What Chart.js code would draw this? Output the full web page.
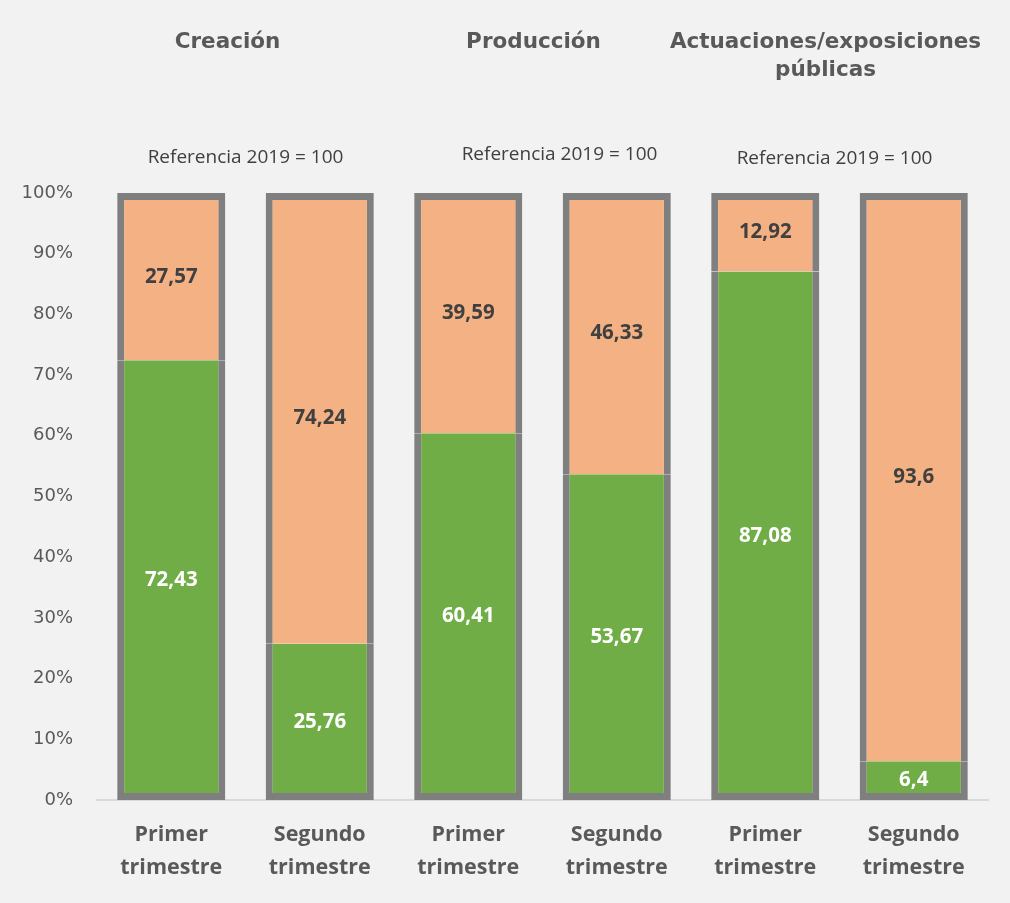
<!DOCTYPE html>
<html>
<head>
<meta charset="utf-8">
<script src="https://cdn.jsdelivr.net/npm/chart.js@4"></script>
<style>
  html, body { margin: 0; padding: 0; background: #f2f2f2; }
  #wrap { width: 1010px; height: 903px; }
</style>
</head>
<body>
<div id="wrap"><canvas id="chart" width="1010" height="903"></canvas></div>
<script>
// Data
const categories = [
  ['Primer', 'trimestre'], ['Segundo', 'trimestre'],
  ['Primer', 'trimestre'], ['Segundo', 'trimestre'],
  ['Primer', 'trimestre'], ['Segundo', 'trimestre']
];
const greenValues  = [72.43, 25.76, 60.41, 53.67, 87.08, 6.4];
const orangeValues = [27.57, 74.24, 39.59, 46.33, 12.92, 93.6];
const groupTitles  = [['Creación'], ['Producción'], ['Actuaciones/exposiciones', 'públicas']];
const groupNote    = 'Referencia 2019 = 100';
const yTicks       = [0, 10, 20, 30, 40, 50, 60, 70, 80, 90, 100];

const GREY_TEXT = '#595959';
const fmt = v => String(v).replace('.', ',');

// Group titles + "Referencia" notes above each pair of bars
const groupTextPlugin = {
  id: 'groupText',
  afterDraw(chart) {
    const ctx = chart.ctx;
    const x = chart.scales.x;
    const titleShift = [-18, -9, -14];
    const noteShift  = [0, 17, -5];
    const noteY      = [158, 155, 159];
    ctx.save();
    ctx.textAlign = 'center';
    ctx.textBaseline = 'middle';
    groupTitles.forEach((lines, g) => {
      const mid = (x.getPixelForValue(g * 2) + x.getPixelForValue(g * 2 + 1)) / 2;
      ctx.fillStyle = GREY_TEXT;
      ctx.font = 'bold 21.5px "DejaVu Sans"';
      lines.forEach((ln, i) => ctx.fillText(ln, mid + titleShift[g], 42 + i * 28));
      ctx.fillStyle = '#404040';
      ctx.font = '19px "Open Sans"';
      ctx.fillText(groupNote, mid + noteShift[g], noteY[g]);
    });
    ctx.restore();
  }
};

// Value labels centred in each segment
const valueLabelPlugin = {
  id: 'valueLabels',
  afterDatasetsDraw(chart) {
    const ctx = chart.ctx;
    ctx.save();
    ctx.textAlign = 'center';
    ctx.textBaseline = 'middle';
    ctx.font = 'bold 20.5px "Open Sans"';
    chart.data.datasets.forEach((ds, di) => {
      const meta = chart.getDatasetMeta(di);
      meta.data.forEach((bar, i) => {
        const y = (bar.y + bar.base) / 2;
        ctx.fillStyle = di === 0 ? '#ffffff' : '#404040';
        ctx.fillText(fmt(ds.data[i]), bar.x, y);
      });
    });
    ctx.restore();
  }
};

new Chart(document.getElementById('chart'), {
  type: 'bar',
  data: {
    labels: categories,
    datasets: [
      {
        label: 'A',
        data: greenValues,
        backgroundColor: '#70ad47',
        borderColor: '#7f7f7f',
        borderWidth: 7,
        borderSkipped: 'top'
      },
      {
        label: 'B',
        data: orangeValues,
        backgroundColor: '#f4b183',
        borderColor: '#7f7f7f',
        borderWidth: 7,
        borderSkipped: 'bottom'
      }
    ]
  },
  options: {
    responsive: false,
    animation: false,
    devicePixelRatio: 1,
    barPercentage: 0.8,
    categoryPercentage: 0.91,
    layout: { padding: { top: 193, right: 22, left: 0, bottom: 0 } },
    plugins: {
      legend: { display: false },
      tooltip: { enabled: false }
    },
    scales: {
      x: {
        stacked: true,
        grid: { display: false, drawTicks: false },
        border: { display: true, color: '#d9d9d9', width: 2 },
        ticks: {
          color: GREY_TEXT,
          font: { family: 'Open Sans', size: 21.5, weight: 'bold', lineHeight: 1.5 },
          padding: 19,
          maxRotation: 0
        },
        afterFit(scale) { scale.height = 103; }
      },
      y: {
        stacked: true,
        min: 0,
        max: 100,
        grid: { display: false, drawTicks: false },
        border: { display: false },
        afterBuildTicks(scale) { scale.ticks = yTicks.map(v => ({ value: v })); },
        ticks: {
          color: GREY_TEXT,
          font: { family: 'DejaVu Sans', size: 18 },
          padding: 24,
          callback: v => v + '%'
        },
        afterFit(scale) { scale.width = 97; }
      }
    }
  },
  plugins: [groupTextPlugin, valueLabelPlugin]
});
</script>
</body>
</html>
